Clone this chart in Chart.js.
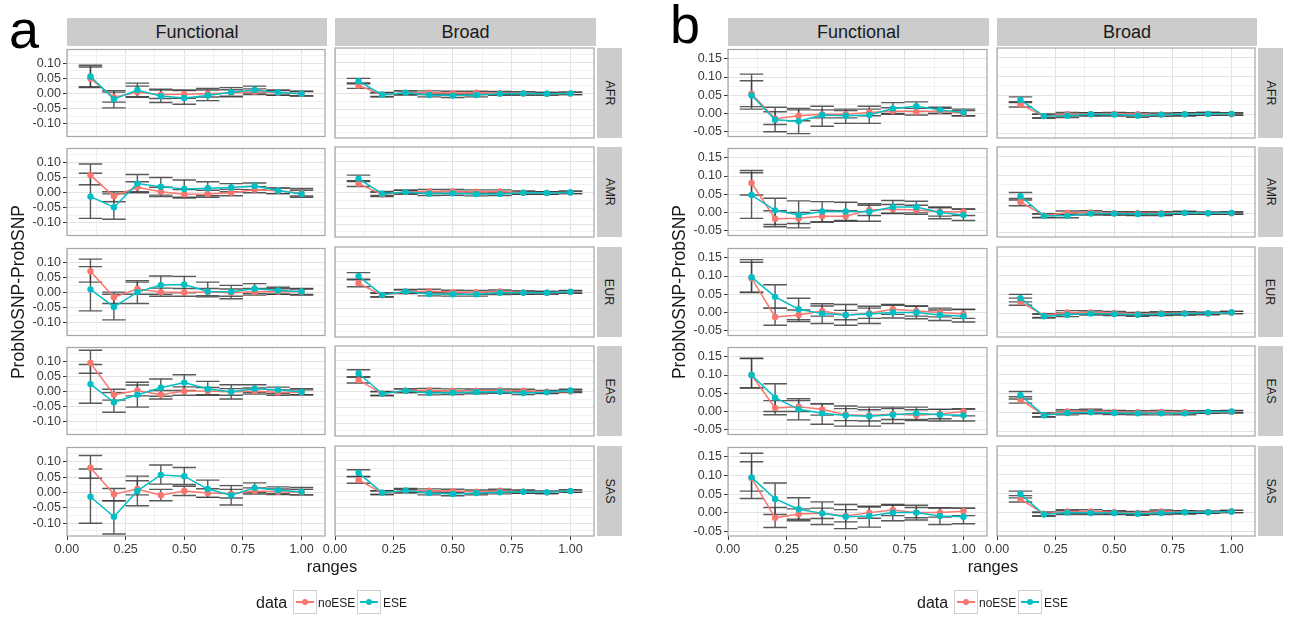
<!DOCTYPE html>
<html>
<head>
<meta charset="utf-8">
<script src="https://cdn.jsdelivr.net/npm/chart.js@4.4.0/dist/chart.umd.min.js"></script>
<style>
  body { margin: 0; background: #fff; width: 1292px; height: 622px; position: relative; overflow: hidden;
         font-family: "Liberation Sans", Arial, sans-serif; }
  canvas { position: absolute; }
  .strip { position: absolute; background: #cccccc; color: #1a1a1a; display: flex;
           align-items: center; justify-content: center; }
  .strip.top { font-size: 18px; }
  .strip.side span { display: inline-block; transform: rotate(90deg); font-size: 12.5px; white-space: nowrap; }
  .lbl { position: absolute; color: #1a1a1a; white-space: nowrap; }
  .ytitle { font-size: 17.5px; transform: translate(-50%, -50%) rotate(-90deg); }
  .xtitle { font-size: 16.5px; transform: translate(-50%, -50%); }
  .letter { font-size: 54px; line-height: 1; color: #000; }
  .key { position: absolute; width: 22px; height: 22px; border: 1px solid #d0d0d0; background: #fff; }
  .key .ln { position: absolute; left: 2px; right: 2px; top: 10px; height: 1.5px; }
  .key .pt { position: absolute; left: 8px; top: 8px; width: 6px; height: 6px; border-radius: 50%; }
</style>
</head>
<body>
<script>
// ---- data ----
const ranges = [0.1, 0.2, 0.3, 0.4, 0.5, 0.6, 0.7, 0.8, 0.9, 1.0];
const columns = ['Functional', 'Broad'];
const regions = ['AFR', 'AMR', 'EUR', 'EAS', 'SAS'];
const seriesNames = ['noESE', 'ESE'];
const seriesColors = ['#F8766D', '#00BFC4'];

const xMajor = [0, 0.25, 0.5, 0.75, 1.0];
const xMinor = [0.125, 0.375, 0.625, 0.875];
const yMajorA = [-0.10, -0.05, 0, 0.05, 0.10];
const yMinorA = [-0.125, -0.075, -0.025, 0.025, 0.075, 0.125];
const yMajorB = [-0.05, 0, 0.05, 0.10, 0.15];
const yMinorB = [-0.025, 0.025, 0.075, 0.125];

// each point: [mean, lower, upper]
// panel a, Functional
const aFunAFR_no  = [[0.050,0.020,0.088],[-0.012,-0.028,0.005],[0.005,-0.010,0.025],[-0.003,-0.016,0.012],[-0.002,-0.015,0.012],[0.000,-0.011,0.012],[0.002,-0.008,0.013],[0.006,-0.003,0.016],[0.003,-0.005,0.010],[0.000,-0.007,0.007]];
const aFunAFR_ese = [[0.057,0.023,0.094],[-0.018,-0.047,0.010],[0.012,-0.012,0.035],[-0.008,-0.029,0.015],[-0.014,-0.035,0.010],[-0.006,-0.023,0.017],[0.005,-0.010,0.020],[0.012,0.002,0.025],[0.004,-0.005,0.012],[0.000,-0.008,0.008]];
const aFunAMR_no  = [[0.058,0.026,0.095],[-0.012,-0.030,0.003],[0.018,0.000,0.036],[0.003,-0.013,0.018],[-0.005,-0.018,0.010],[-0.004,-0.015,0.008],[0.000,-0.010,0.011],[0.010,0.000,0.020],[0.006,-0.003,0.015],[-0.002,-0.011,0.008]];
const aFunAMR_ese = [[-0.013,-0.085,0.064],[-0.048,-0.088,-0.004],[0.030,0.003,0.060],[0.020,-0.008,0.050],[0.012,-0.015,0.042],[0.015,-0.010,0.036],[0.017,0.003,0.030],[0.022,0.010,0.032],[0.007,-0.003,0.016],[-0.004,-0.015,0.014]];
const aFunEUR_no  = [[0.071,0.035,0.111],[-0.015,-0.036,0.002],[0.012,-0.005,0.035],[0.002,-0.012,0.015],[0.001,-0.012,0.014],[0.002,-0.010,0.014],[0.000,-0.012,0.012],[0.003,-0.008,0.014],[0.004,-0.005,0.013],[0.003,-0.006,0.012]];
const aFunEUR_ese = [[0.011,-0.060,0.086],[-0.047,-0.090,-0.005],[0.002,-0.036,0.040],[0.025,-0.005,0.055],[0.027,0.000,0.054],[0.004,-0.014,0.035],[0.003,-0.020,0.024],[0.013,-0.003,0.030],[0.007,-0.005,0.018],[0.004,-0.008,0.014]];
const aFunEAS_no  = [[0.095,0.061,0.137],[-0.010,-0.028,0.008],[0.004,-0.014,0.022],[-0.010,-0.024,0.004],[0.002,-0.012,0.016],[0.002,-0.010,0.014],[-0.001,-0.012,0.010],[0.002,-0.008,0.012],[-0.003,-0.012,0.006],[-0.002,-0.010,0.006]];
const aFunEAS_ese = [[0.025,-0.038,0.090],[-0.035,-0.068,-0.003],[-0.010,-0.051,0.031],[0.013,-0.015,0.042],[0.030,0.004,0.056],[0.009,-0.012,0.034],[0.000,-0.024,0.023],[0.010,-0.003,0.023],[0.006,-0.006,0.015],[-0.001,-0.010,0.010]];
const aFunSAS_no  = [[0.080,0.046,0.120],[-0.006,-0.027,0.013],[0.011,-0.008,0.038],[-0.009,-0.027,0.010],[0.005,-0.010,0.020],[-0.002,-0.016,0.012],[-0.004,-0.018,0.010],[0.005,-0.005,0.015],[0.002,-0.007,0.011],[0.001,-0.008,0.010]];
const aFunSAS_ese = [[-0.014,-0.100,0.076],[-0.079,-0.135,-0.027],[0.005,-0.043,0.053],[0.057,0.027,0.089],[0.053,0.026,0.081],[0.011,-0.016,0.040],[-0.009,-0.041,0.022],[0.015,0.000,0.031],[0.007,-0.004,0.018],[0.002,-0.008,0.016]];
// panel a, Broad
const aBroAFR_no  = [[0.026,0.017,0.034],[-0.003,-0.009,0.003],[0.003,-0.003,0.009],[0.003,-0.003,0.009],[0.002,-0.004,0.008],[0.003,-0.003,0.008],[0.002,-0.003,0.007],[0.001,-0.004,0.006],[0.000,-0.004,0.004],[0.001,-0.003,0.005]];
const aBroAFR_ese = [[0.040,0.032,0.049],[-0.003,-0.010,0.004],[0.003,-0.004,0.009],[-0.004,-0.010,0.002],[-0.006,-0.012,0.000],[-0.004,-0.010,0.002],[0.000,-0.005,0.005],[0.001,-0.004,0.006],[0.000,-0.004,0.004],[0.001,-0.003,0.005]];
const aBroAMR_no  = [[0.029,0.020,0.038],[-0.006,-0.012,0.001],[0.002,-0.004,0.008],[0.004,-0.002,0.010],[0.004,-0.002,0.010],[0.003,-0.003,0.009],[0.004,-0.002,0.009],[0.000,-0.005,0.005],[-0.001,-0.005,0.003],[0.001,-0.003,0.005]];
const aBroAMR_ese = [[0.045,0.036,0.056],[-0.003,-0.009,0.004],[0.002,-0.004,0.008],[-0.003,-0.009,0.003],[-0.002,-0.008,0.004],[-0.004,-0.010,0.002],[-0.004,-0.009,0.001],[0.000,-0.005,0.005],[-0.001,-0.005,0.003],[0.001,-0.003,0.005]];
const aBroEUR_no  = [[0.030,0.019,0.041],[-0.008,-0.014,-0.002],[0.003,-0.003,0.009],[0.005,-0.001,0.011],[0.002,-0.004,0.008],[0.001,-0.005,0.007],[0.004,-0.002,0.009],[0.001,-0.004,0.006],[0.000,-0.004,0.004],[0.002,-0.002,0.006]];
const aBroEUR_ese = [[0.053,0.043,0.064],[-0.007,-0.013,0.000],[0.004,-0.002,0.010],[-0.004,-0.010,0.002],[-0.005,-0.011,0.001],[-0.005,-0.011,0.001],[0.000,-0.006,0.005],[0.000,-0.005,0.005],[0.000,-0.004,0.004],[0.003,-0.001,0.007]];
const aBroEAS_no  = [[0.037,0.028,0.047],[-0.006,-0.012,0.000],[0.003,-0.003,0.009],[0.004,-0.002,0.010],[0.003,-0.003,0.009],[0.003,-0.003,0.009],[0.004,-0.002,0.009],[0.003,-0.002,0.008],[0.000,-0.004,0.004],[0.001,-0.003,0.005]];
const aBroEAS_ese = [[0.058,0.047,0.070],[-0.006,-0.012,0.001],[0.003,-0.003,0.009],[-0.004,-0.010,0.002],[-0.003,-0.009,0.003],[-0.001,-0.007,0.005],[0.000,-0.005,0.005],[-0.004,-0.009,0.001],[-0.002,-0.006,0.002],[0.004,0.000,0.008]];
const aBroSAS_no  = [[0.037,0.027,0.048],[-0.003,-0.009,0.003],[0.002,-0.004,0.008],[0.003,-0.003,0.009],[0.002,-0.004,0.008],[0.000,-0.006,0.006],[0.003,-0.002,0.008],[0.000,-0.005,0.005],[-0.002,-0.006,0.002],[0.002,-0.002,0.006]];
const aBroSAS_ese = [[0.060,0.049,0.070],[-0.003,-0.009,0.003],[0.004,-0.002,0.010],[-0.004,-0.010,0.002],[-0.007,-0.013,-0.001],[-0.004,-0.010,0.002],[-0.002,-0.007,0.003],[0.000,-0.005,0.005],[-0.002,-0.006,0.002],[0.002,-0.002,0.006]];
// panel b, Functional
const bFunAFR_no  = [[0.054,0.012,0.108],[-0.014,-0.030,0.005],[-0.006,-0.020,0.010],[-0.002,-0.012,0.010],[-0.002,-0.012,0.008],[0.003,-0.006,0.012],[0.007,-0.002,0.016],[0.005,-0.004,0.014],[0.007,0.000,0.014],[0.001,-0.006,0.008]];
const bFunAFR_ese = [[0.050,0.019,0.090],[-0.017,-0.050,0.017],[-0.021,-0.055,0.014],[-0.004,-0.035,0.020],[-0.006,-0.027,0.012],[-0.004,-0.027,0.020],[0.014,0.000,0.030],[0.020,0.006,0.032],[0.010,0.000,0.017],[0.003,-0.006,0.012]];
const bFunAMR_no  = [[0.081,0.048,0.115],[-0.017,-0.039,0.005],[-0.016,-0.030,0.000],[-0.010,-0.026,0.006],[-0.010,-0.024,0.005],[0.007,-0.008,0.020],[0.009,-0.003,0.022],[0.007,-0.005,0.020],[0.002,-0.010,0.013],[0.002,-0.008,0.010]];
const bFunAMR_ese = [[0.048,-0.016,0.109],[0.006,-0.033,0.039],[-0.007,-0.042,0.032],[0.003,-0.026,0.030],[0.003,-0.022,0.028],[0.002,-0.024,0.024],[0.015,-0.002,0.033],[0.015,-0.001,0.031],[0.000,-0.017,0.015],[-0.007,-0.022,0.009]];
const bFunEUR_no  = [[0.094,0.055,0.138],[-0.012,-0.035,0.012],[-0.007,-0.020,0.007],[0.004,-0.010,0.018],[-0.007,-0.020,0.006],[-0.002,-0.016,0.012],[0.009,-0.005,0.022],[0.004,-0.010,0.018],[0.000,-0.012,0.012],[-0.004,-0.016,0.008]];
const bFunEUR_ese = [[0.097,0.056,0.145],[0.043,0.012,0.076],[0.009,-0.025,0.039],[-0.003,-0.030,0.024],[-0.007,-0.035,0.022],[-0.004,-0.030,0.017],[0.000,-0.015,0.020],[0.000,-0.017,0.017],[-0.007,-0.022,0.007],[-0.010,-0.026,0.009]];
const bFunEAS_no  = [[0.100,0.065,0.145],[0.010,-0.009,0.030],[0.013,0.000,0.030],[0.006,-0.010,0.021],[-0.009,-0.025,0.008],[-0.011,-0.026,0.005],[-0.007,-0.022,0.008],[-0.010,-0.025,0.005],[-0.007,-0.020,0.006],[0.000,-0.012,0.008]];
const bFunEAS_ese = [[0.100,0.064,0.146],[0.038,0.000,0.076],[0.006,-0.023,0.035],[-0.005,-0.035,0.021],[-0.011,-0.040,0.015],[-0.013,-0.040,0.012],[-0.009,-0.033,0.012],[-0.005,-0.022,0.012],[-0.009,-0.026,0.006],[-0.010,-0.026,0.006]];
const bFunSAS_no  = [[0.093,0.058,0.137],[-0.014,-0.040,0.014],[-0.004,-0.018,0.010],[-0.002,-0.016,0.012],[-0.009,-0.025,0.008],[0.000,-0.015,0.015],[0.007,-0.008,0.020],[0.000,-0.014,0.014],[0.000,-0.012,0.012],[0.004,-0.008,0.012]];
const bFunSAS_ese = [[0.095,0.038,0.160],[0.037,-0.005,0.080],[0.009,-0.022,0.040],[-0.002,-0.032,0.029],[-0.011,-0.043,0.022],[-0.009,-0.039,0.017],[0.000,-0.022,0.022],[0.000,-0.020,0.020],[-0.009,-0.032,0.013],[-0.011,-0.030,0.012]];
// panel b, Broad
const bBroAFR_no  = [[0.026,0.019,0.033],[-0.005,-0.010,0.000],[0.000,-0.005,0.005],[0.000,-0.004,0.004],[0.001,-0.003,0.005],[0.000,-0.004,0.004],[-0.001,-0.005,0.003],[0.000,-0.004,0.004],[0.001,-0.003,0.005],[0.000,-0.003,0.003]];
const bBroAFR_ese = [[0.038,0.031,0.046],[-0.005,-0.010,0.000],[-0.004,-0.009,0.001],[0.000,-0.004,0.004],[-0.001,-0.005,0.003],[-0.004,-0.008,0.000],[-0.001,-0.005,0.003],[0.000,-0.004,0.004],[0.001,-0.003,0.005],[0.001,-0.002,0.004]];
const bBroAMR_no  = [[0.030,0.020,0.039],[-0.006,-0.011,-0.001],[0.001,-0.004,0.006],[0.002,-0.003,0.007],[0.000,-0.004,0.004],[0.000,-0.004,0.004],[0.000,-0.004,0.004],[0.001,-0.003,0.005],[0.000,-0.003,0.003],[0.000,-0.003,0.003]];
const bBroAMR_ese = [[0.045,0.035,0.055],[-0.007,-0.012,-0.002],[-0.007,-0.012,-0.002],[-0.001,-0.005,0.003],[-0.001,-0.005,0.003],[-0.002,-0.006,0.002],[-0.002,-0.006,0.002],[0.001,-0.003,0.005],[0.000,-0.003,0.003],[0.001,-0.002,0.004]];
const bBroEUR_no  = [[0.030,0.021,0.040],[-0.006,-0.011,-0.001],[0.002,-0.003,0.007],[0.002,-0.003,0.007],[0.001,-0.003,0.005],[-0.002,-0.006,0.002],[0.000,-0.004,0.004],[0.000,-0.004,0.004],[-0.001,-0.004,0.002],[0.002,-0.001,0.005]];
const bBroEUR_ese = [[0.040,0.030,0.050],[-0.008,-0.013,-0.003],[-0.004,-0.009,0.001],[-0.001,-0.005,0.003],[-0.002,-0.006,0.002],[-0.004,-0.008,0.000],[-0.002,-0.006,0.002],[-0.001,-0.005,0.003],[0.000,-0.003,0.003],[0.002,-0.001,0.005]];
const bBroEAS_no  = [[0.033,0.024,0.041],[-0.007,-0.012,-0.002],[0.002,-0.003,0.007],[0.003,-0.002,0.008],[0.001,-0.003,0.005],[0.000,-0.004,0.004],[0.001,-0.003,0.005],[0.000,-0.004,0.004],[0.000,-0.003,0.003],[0.001,-0.002,0.004]];
const bBroEAS_ese = [[0.045,0.035,0.055],[-0.008,-0.013,-0.003],[-0.002,-0.007,0.003],[0.000,-0.004,0.004],[-0.002,-0.006,0.002],[-0.003,-0.007,0.001],[-0.003,-0.007,0.001],[-0.003,-0.007,0.001],[0.001,-0.002,0.004],[0.002,-0.001,0.005]];
const bBroSAS_no  = [[0.035,0.027,0.044],[-0.004,-0.009,0.001],[0.002,-0.003,0.007],[0.002,-0.003,0.007],[0.000,-0.004,0.004],[-0.002,-0.006,0.002],[0.002,-0.002,0.006],[0.000,-0.004,0.004],[0.000,-0.003,0.003],[0.002,-0.001,0.005]];
const bBroSAS_ese = [[0.048,0.038,0.056],[-0.006,-0.011,-0.001],[-0.001,-0.006,0.004],[-0.002,-0.006,0.002],[-0.002,-0.006,0.002],[-0.004,-0.008,0.000],[-0.002,-0.006,0.002],[0.000,-0.004,0.004],[0.000,-0.003,0.003],[0.002,-0.001,0.005]];

// lookup table built from the arrays above
const facetData = {
  a: {
    Functional: { AFR: [aFunAFR_no, aFunAFR_ese], AMR: [aFunAMR_no, aFunAMR_ese], EUR: [aFunEUR_no, aFunEUR_ese], EAS: [aFunEAS_no, aFunEAS_ese], SAS: [aFunSAS_no, aFunSAS_ese] },
    Broad:      { AFR: [aBroAFR_no, aBroAFR_ese], AMR: [aBroAMR_no, aBroAMR_ese], EUR: [aBroEUR_no, aBroEUR_ese], EAS: [aBroEAS_no, aBroEAS_ese], SAS: [aBroSAS_no, aBroSAS_ese] }
  },
  b: {
    Functional: { AFR: [bFunAFR_no, bFunAFR_ese], AMR: [bFunAMR_no, bFunAMR_ese], EUR: [bFunEUR_no, bFunEUR_ese], EAS: [bFunEAS_no, bFunEAS_ese], SAS: [bFunSAS_no, bFunSAS_ese] },
    Broad:      { AFR: [bBroAFR_no, bBroAFR_ese], AMR: [bBroAMR_no, bBroAMR_ese], EUR: [bBroEUR_no, bBroEUR_ese], EAS: [bBroEAS_no, bBroEAS_ese], SAS: [bBroSAS_no, bBroSAS_ese] }
  }
};

// ---- layout ----
const panels = [
  { key: 'a', colLeft: [67, 335], colW: [260, 261], stripX: 597, yMin: -0.1415, yMax: 0.146, yMajor: yMajorA, yMinor: yMinorA, dx: 0 },
  { key: 'b', colLeft: [728, 997], colW: [261, 260], stripX: 1258, yMin: -0.063, yMax: 0.1755, yMajor: yMajorB, yMinor: yMinorB, dx: 661 }
];
const rowTop = [48, 147, 247, 346, 446];
const rowH = 90;

Chart.defaults.font.family = '"Liberation Sans", Arial, sans-serif';

const near = (arr, v) => arr.some(m => Math.abs(m - v) < 1e-9);
const gridColor = (major) => ctx => near(major, ctx.tick.value) ? '#e2e2e2' : '#f1f1f1';

const errorBars = {
  id: 'errorBars',
  beforeDatasetsDraw(chart) {
    const { ctx, scales: { x, y } } = chart;
    ctx.save();
    ctx.strokeStyle = 'rgba(60,60,60,0.85)';
    ctx.lineWidth = 1.4;
    chart.data.datasets.forEach(ds => ds.data.forEach(p => {
      const cx = x.getPixelForValue(p.x);
      const l = x.getPixelForValue(p.x - 0.05), r = x.getPixelForValue(p.x + 0.05);
      const y1 = y.getPixelForValue(p.lo), y2 = y.getPixelForValue(p.hi);
      ctx.beginPath();
      ctx.moveTo(cx, y1); ctx.lineTo(cx, y2);
      ctx.moveTo(l, y1); ctx.lineTo(r, y1);
      ctx.moveTo(l, y2); ctx.lineTo(r, y2);
      ctx.stroke();
    }));
    ctx.restore();
  }
};

const panelBorder = {
  id: 'panelBorder',
  afterDraw(chart) {
    const { ctx, chartArea: a } = chart;
    ctx.save();
    ctx.strokeStyle = '#a6a6a6';
    ctx.lineWidth = 1.2;
    ctx.strokeRect(a.left, a.top, a.right - a.left, a.bottom - a.top);
    ctx.restore();
  }
};

function addDiv(cls, style, html) {
  const d = document.createElement('div');
  d.className = cls;
  Object.assign(d.style, style);
  d.innerHTML = html;
  document.body.appendChild(d);
  return d;
}

panels.forEach(p => {
  columns.forEach((col, c) => {
    addDiv('strip top', { left: p.colLeft[c] + 'px', top: '18px', width: p.colW[c] + 'px', height: '28px' }, col);

    regions.forEach((reg, r) => {
      const isLeft = c === 0, isBottom = r === regions.length - 1;
      const padL = isLeft ? 50 : 16;
      const padB = isBottom ? 24 : 8;
      const padT = 8;
      const W = p.colW[c], H = rowH;
      const cv = document.createElement('canvas');
      cv.width = W + padL + 2;
      cv.height = H + padT + padB;
      cv.style.left = (p.colLeft[c] - padL) + 'px';
      cv.style.top = (rowTop[r] - padT) + 'px';
      document.body.appendChild(cv);

      // ESE (second series) is drawn on top, as in the original
      const datasets = facetData[p.key][col][reg].map((arr, s) => ({
        label: seriesNames[s],
        data: arr.map((t, i) => ({ x: ranges[i], y: t[0], lo: t[1], hi: t[2] })),
        borderColor: seriesColors[s],
        backgroundColor: seriesColors[s],
        borderWidth: 1.5,
        pointRadius: 3.2,
        pointBorderWidth: 0,
        tension: 0,
        order: seriesNames.length - s
      }));

      new Chart(cv, {
        type: 'line',
        data: { datasets },
        options: {
          responsive: false,
          animation: false,
          layout: { padding: { top: padT, right: 2, left: 0, bottom: 0 } },
          plugins: { legend: { display: false }, tooltip: { enabled: false } },
          scales: {
            x: {
              type: 'linear', min: 0, max: 1.1,
              afterBuildTicks: ax => { ax.ticks = xMajor.concat(xMinor).sort((m, n) => m - n).map(v => ({ value: v })); },
              afterFit: ax => { ax.height = padB; },
              border: { display: false },
              grid: {
                color: gridColor(xMajor),
                lineWidth: 1,
                drawTicks: isBottom,
                tickLength: 4,
                tickColor: ctx => near(xMajor, ctx.tick.value) ? '#333333' : 'rgba(0,0,0,0)'
              },
              ticks: {
                display: isBottom, padding: 2, autoSkip: false, maxRotation: 0,
                color: '#3a3a3a', font: { size: 12.5 },
                callback: v => near(xMajor, v) ? v.toFixed(2) : ''
              }
            },
            y: {
              type: 'linear', min: p.yMin, max: p.yMax,
              afterBuildTicks: ax => { ax.ticks = p.yMajor.concat(p.yMinor).sort((m, n) => m - n).map(v => ({ value: v })); },
              afterFit: ax => { ax.width = padL; },
              border: { display: false },
              grid: {
                color: gridColor(p.yMajor),
                lineWidth: 1,
                drawTicks: isLeft,
                tickLength: 4,
                tickColor: ctx => near(p.yMajor, ctx.tick.value) ? '#333333' : 'rgba(0,0,0,0)'
              },
              ticks: {
                display: isLeft, padding: 2, autoSkip: false,
                color: '#3a3a3a', font: { size: 12.5 },
                callback: v => near(p.yMajor, v) ? v.toFixed(2) : ''
              }
            }
          }
        },
        plugins: [errorBars, panelBorder]
      });

      if (c === columns.length - 1) {
        addDiv('strip side', { left: p.stripX + 'px', top: rowTop[r] + 'px', width: '25px', height: rowH + 'px' }, '<span>' + reg + '</span>');
      }
    });
  });

  // axis titles and panel letter
  addDiv('lbl ytitle', { left: (18 + p.dx) + 'px', top: '292px' }, 'ProbNoSNP-ProbSNP');
  addDiv('lbl xtitle', { left: ((p.colLeft[0] + p.stripX) / 2) + 'px', top: '566px' }, 'ranges');
  addDiv('lbl letter', { left: (9 + p.dx) + 'px', top: (p.key === 'a' ? '2px' : '-3px') }, p.key);

  // legend
  addDiv('lbl', { left: (256 + p.dx) + 'px', top: '594px', fontSize: '16px' }, 'data');
  const keyX = [293, 357], textX = [318, 383];
  seriesNames.forEach((s, i) => {
    addDiv('key', { left: (keyX[i] + p.dx) + 'px', top: '590px' },
      '<div class="ln" style="background:' + seriesColors[i] + '"></div><div class="pt" style="background:' + seriesColors[i] + '"></div>');
    addDiv('lbl', { left: (textX[i] + p.dx) + 'px', top: '596px', fontSize: '12px' }, s);
  });
});
</script>
</body>
</html>
